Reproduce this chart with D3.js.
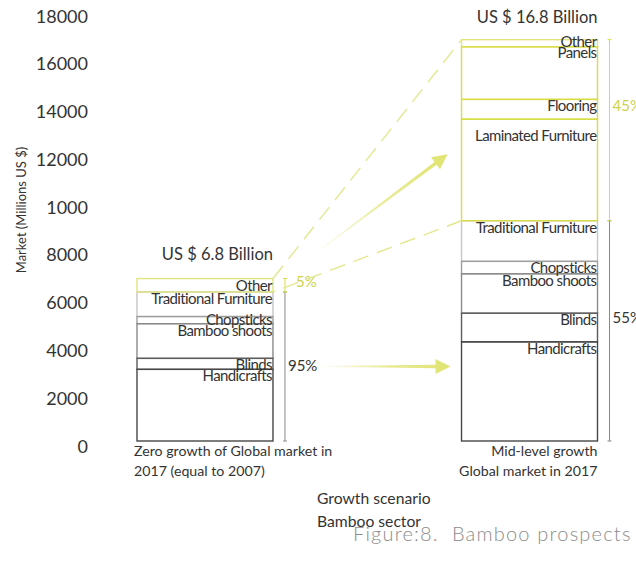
<!DOCTYPE html>
<html>
<head>
<meta charset="utf-8">
<script src="https://cdn.jsdelivr.net/npm/d3@7"></script>
<style>
  body { margin: 0; background: #fff; }
  svg { display: block; font-family: Lato, "DejaVu Sans", sans-serif; }
</style>
</head>
<body>
<svg id="chart" width="636" height="562"></svg>
<script>
// Global bamboo market by product in 2017, two growth scenarios (millions of US $)
const scenarios = ["Zero growth", "Mid-level growth"];
const categories = ["Handicrafts", "Blinds", "Bamboo shoots", "Chopsticks", "Traditional Furniture",
                    "Laminated Furniture", "Flooring", "Panels", "Other"];
const zeroGrowthValues = [3000, 460, 1450, 300, 1030, 0, 0, 0, 560];
const midGrowthValues  = [4150, 1200, 1650, 520, 1700, 4250, 830, 2200, 300];
const newProducts = ["Laminated Furniture", "Flooring", "Panels", "Other"];
const shareLabels = [["95%", "5%"], ["55%", "45%"]];
const tickValues = [0, 2000, 4000, 6000, 8000, 10000, 12000, 14000, 16000, 18000];
const tickLabels = ["0", "2000", "4000", "6000", "8000", "1000", "12000", "14000", "16000", "18000"];
const captions = [["Zero growth of Global market in", "2017 (equal to 2007)"],
                  ["Mid-level growth", "Global market in 2017"]];

const YELLOW = "#d8dd45";
const YELLOW_TEXT = "#cdd24a";
const ARROW = "#e0e471";
const INK = "#333";

const svg = d3.select("#chart");

const y = d3.scaleLinear().domain([0, 18000]).range([441, 11]);
const x = d3.scaleBand().domain(scenarios).range([137, 597.5]).paddingInner(0.581).paddingOuter(0);
const bw = x.bandwidth();

const stroke = d3.scaleOrdinal()
  .domain(categories)
  .range(["#474747", "#5c5c5c", "#8a8a8a", "#9e9e9e", "#c6c6c6", YELLOW, YELLOW, YELLOW, "#e1e47e"]);

// label baseline offsets below each segment top
const labelDy = { "0|Chopsticks": 8, "1|Other": 7, "1|Laminated Furniture": 22, "1|Panels": 11 };

const seriesValues = [zeroGrowthValues, midGrowthValues];
const isNew = c => newProducts.includes(c);

// y axis (tick labels only)
const axis = d3.axisLeft(y).tickValues(tickValues).tickSize(0).tickPadding(0)
  .tickFormat((d, i) => tickLabels[i]);
const ga = svg.append("g").attr("transform", "translate(88,0)").call(axis);
ga.select(".domain").remove();
ga.selectAll("text").attr("font-size", 18).attr("fill", INK).attr("dy", 11)
  .attr("font-family", "Lato, sans-serif");

svg.append("text")
  .attr("transform", "translate(26,210) rotate(-90)")
  .attr("text-anchor", "middle").attr("font-size", 13).attr("fill", INK)
  .text("Market (Millions US $)");

// gradients for the growth arrows
const defs = svg.append("defs");
function arrow(id, x0, y0, x1, y1) {
  const g = defs.append("linearGradient").attr("id", id)
    .attr("gradientUnits", "userSpaceOnUse")
    .attr("x1", x0).attr("y1", y0).attr("x2", x1).attr("y2", y1);
  g.append("stop").attr("offset", 0).attr("stop-color", ARROW).attr("stop-opacity", 0.05);
  g.append("stop").attr("offset", 0.55).attr("stop-color", ARROW).attr("stop-opacity", 0.75);
  g.append("stop").attr("offset", 1).attr("stop-color", ARROW).attr("stop-opacity", 1);
  const dx = x1 - x0, dy = y1 - y0, L = Math.hypot(dx, dy);
  const ux = dx / L, uy = dy / L, nx = -uy, ny = ux;
  const head = 15, hw = 7.5, w0 = 0.4, w1 = 1.7;
  const bx = x1 - ux * head, by = y1 - uy * head;
  const pts = [
    [x0 + nx * w0, y0 + ny * w0], [bx + nx * w1, by + ny * w1], [bx + nx * hw, by + ny * hw],
    [x1, y1], [bx - nx * hw, by - ny * hw], [bx - nx * w1, by - ny * w1], [x0 - nx * w0, y0 - ny * w0]
  ];
  svg.append("path").attr("d", d3.line()(pts) + "Z").attr("fill", `url(#${id})`);
}

scenarios.forEach((s, si) => {
  const vals = seriesValues[si];
  let acc = 0;
  const segs = [];
  categories.forEach((c, ci) => {
    const v = vals[ci];
    if (v > 0) { segs.push({ c, ci, y0: acc, y1: acc + v }); }
    acc += v;
  });
  const total = acc;
  const baseTotal = d3.sum(categories.filter(c => !isNew(c)), c => vals[categories.indexOf(c)]);
  const bx = x(s), right = bx + bw;

  const order = segs.slice().sort((a, b) => (isNew(a.c) - isNew(b.c)) || (b.ci - a.ci));
  svg.append("g").selectAll("rect").data(order).join("rect")
    .attr("x", bx).attr("width", bw)
    .attr("y", d => y(d.y1)).attr("height", d => y(d.y0) - y(d.y1))
    .attr("fill", "none").attr("stroke", d => stroke(d.c)).attr("stroke-width", 1.4);

  svg.append("g").selectAll("text").data(segs).join("text")
    .attr("x", right - 1)
    .attr("y", d => y(d.y1) + (labelDy[si + "|" + d.c] ?? 12))
    .attr("text-anchor", "end").attr("font-size", 15).attr("letter-spacing", -0.6)
    .attr("fill", INK).text(d => d.c);

  // scenario total
  svg.append("text").attr("x", right).attr("y", y(total) - (si ? 17 : 19))
    .attr("text-anchor", "end").attr("font-size", 16.5).attr("fill", INK)
    .text(`US $ ${(total / 1000).toFixed(1)} Billion`);

  // share brackets
  const bxr = right + 12;
  const brackets = [
    { a: 0, b: baseTotal, col: "#8a8a8a", lab: shareLabels[si][0], tc: INK },
    { a: baseTotal, b: total, col: YELLOW, lab: shareLabels[si][1], tc: YELLOW_TEXT }
  ];
  brackets.forEach((br, bi) => {
    const ya = y(br.a), yb = y(br.b);
    svg.append("line").attr("x1", bxr).attr("x2", bxr).attr("y1", ya).attr("y2", yb)
      .attr("stroke", br.col).attr("stroke-width", 1);
    [ya, yb].forEach(yy => svg.append("line").attr("x1", bxr - 2).attr("x2", bxr + 2)
      .attr("y1", yy).attr("y2", yy).attr("stroke", br.col).attr("stroke-width", 1));
    const off = si === 0 ? (bi ? -3 : 0) : (bi === 0 ? -13 : -24);
    svg.append("text").attr("x", bxr + (si === 0 ? (bi ? 11 : 3) : 3))
      .attr("y", (ya + yb) / 2 + off + 5)
      .attr("font-size", 15).attr("fill", br.tc).text(br.lab);
  });

  captions[si].forEach((t, li) => {
    svg.append("text").attr("x", si ? right : bx - 3).attr("y", 456 + li * 20)
      .attr("text-anchor", si ? "end" : "start").attr("font-size", 14.2).attr("fill", INK).text(t);
  });
});

// projection of the new-product share onto the mid-level bar
const lRight = x(scenarios[0]) + bw, rLeft = x(scenarios[1]);
const leftTotal = d3.sum(zeroGrowthValues), rightTotal = d3.sum(midGrowthValues);
const leftBase = leftTotal - d3.sum(newProducts, c => zeroGrowthValues[categories.indexOf(c)]);
const rightBase = rightTotal - d3.sum(newProducts, c => midGrowthValues[categories.indexOf(c)]);
[[leftTotal, rightTotal, 0], [leftBase, rightBase, 14]].forEach(([a, b, off]) => {
  svg.append("line").attr("x1", lRight).attr("y1", y(a)).attr("x2", rLeft).attr("y2", y(b))
    .attr("stroke", "#e4e78f").attr("stroke-width", 1.4).attr("stroke-dasharray", "16,9")
    .attr("stroke-dashoffset", off);
});

arrow("gUp", lRight + 42, y(leftTotal) - 25, rLeft - 14, y(12000));
arrow("gFlat", lRight + 45, (y(0) + y(leftBase)) / 2, rLeft - 11, (y(0) + y(leftBase)) / 2);

svg.append("text").attr("x", 317).attr("y", 504).attr("font-size", 15.7).attr("fill", INK).text("Growth scenario");
svg.append("text").attr("x", 317).attr("y", 527).attr("font-size", 15.7).attr("fill", INK).text("Bamboo sector");
svg.append("text").attr("x", 353).attr("y", 541).attr("font-size", 20).attr("font-weight", 300)
  .attr("letter-spacing", 1.2).attr("fill", "#8c8c8c").attr("xml:space", "preserve")
  .text("Figure:8.  Bamboo prospects");
</script>
</body>
</html>
